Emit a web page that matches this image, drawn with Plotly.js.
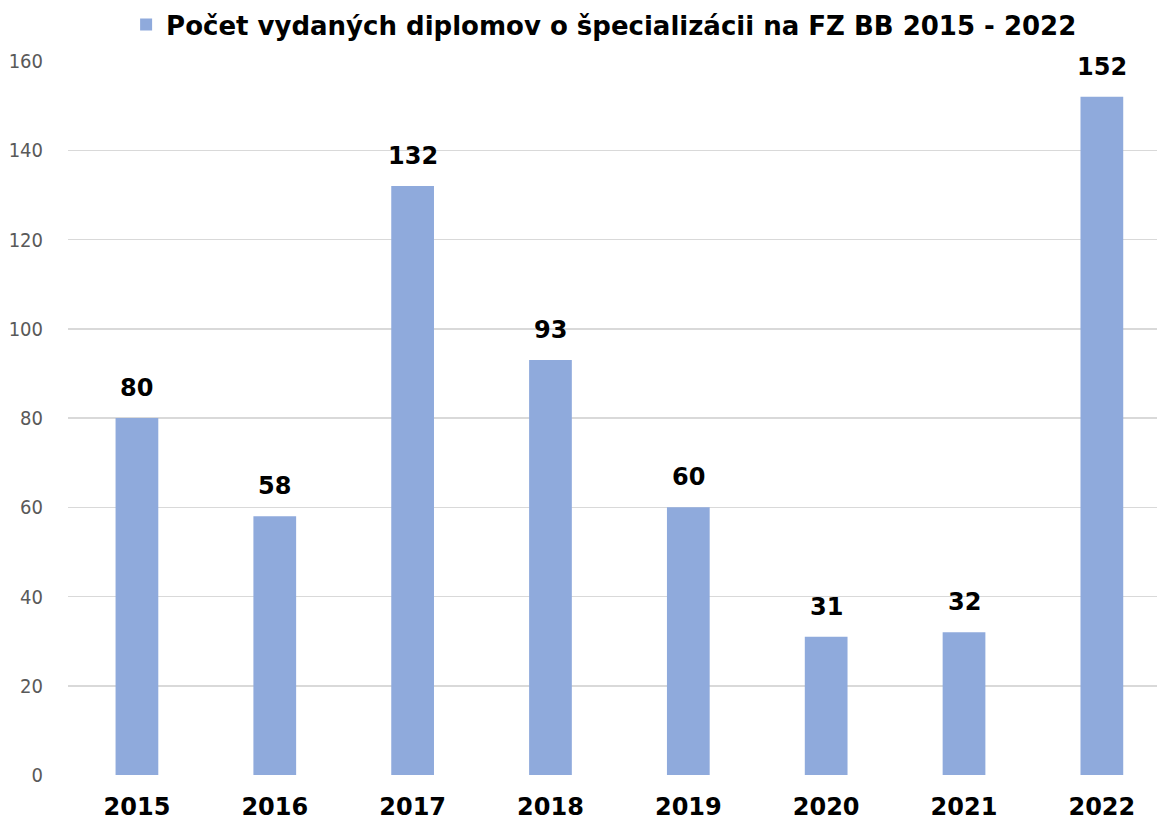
<!DOCTYPE html>
<html><head><meta charset="utf-8">
<script src="https://cdn.plot.ly/plotly-3.0.1.min.js"></script>
<style>html,body{margin:0;padding:0;background:#fff}#chart{width:1157px;height:821px}</style>
</head><body><div id="chart"></div>
<script>
const seriesName = 'Počet vydaných diplomov o špecializácii na FZ BB 2015 - 2022';
const years = ['2015','2016','2017','2018','2019','2020','2021','2022'];
const counts = [80, 58, 132, 93, 60, 31, 32, 152];
const yTicks = [0, 20, 40, 60, 80, 100, 120, 140, 160];

const trace = {
  type: 'bar', name: seriesName, x: years, y: counts,
  marker: {color: '#8FAADC'},
  width: 0.31, showlegend: true, hoverinfo: 'x+y'
};
const annotations = years.map((yr, i) => ({
  x: i, y: counts[i], xref: 'x', yref: 'y', text: String(counts[i]),
  showarrow: false, yanchor: 'bottom', yshift: 14,
  font: {family: 'DejaVu Sans', size: 24, color: '#000', weight: 700}
}));
const layout = {
  width: 1157, height: 821,
  margin: {l: 68, r: 0, t: 61, b: 46},
  paper_bgcolor: '#fff', plot_bgcolor: '#fff',
  showlegend: true,
  legend: {orientation: 'h', x: 0.109, xanchor: 'left', xref: 'container', y: 0.97, yanchor: 'middle', yref: 'container',
    font: {family: 'DejaVu Sans', size: 26, color: '#000', weight: 'bold'}, traceorder: 'normal'},
  annotations: annotations,
  xaxis: {type: 'category', range: [-0.5, 7.4], showgrid: false, zeroline: false, showline: false,
    ticks: '', ticklabelstandoff: 15, tickfont: {family: 'DejaVu Sans', size: 24, color: '#000', weight: 'bold'}, fixedrange: true},
  yaxis: {range: [0, 160], tickvals: yTicks, ticktext: yTicks.map(String), showgrid: true, gridcolor: '#D9D9D9', gridwidth: 1.5,
    zeroline: false, showline: false, ticks: '', ticklabelstandoff: 24,
    tickfont: {family: 'DejaVu Sans Condensed', size: 20, color: '#595959'}, fixedrange: true}
};
Plotly.newPlot('chart', [trace], layout, {displayModeBar: false, staticPlot: true});
</script></body></html>
